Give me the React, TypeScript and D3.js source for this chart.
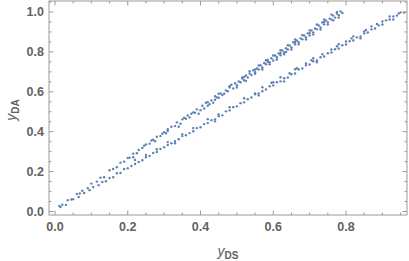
import React from "react";
import * as d3 from "d3";

const upperBand: number[] = [
  0.012,0.028, 0.02,0.034, 0.035,0.057, 0.045,0.060, 0.06,0.088, 0.068,0.090, 0.075,0.104, 0.09,0.117,
  0.10,0.140, 0.115,0.150, 0.125,0.170, 0.135,0.172, 0.15,0.207, 0.16,0.213, 0.17,0.222, 0.18,0.245,
  0.19,0.250, 0.20,0.268, 0.205,0.27, 0.215,0.29, 0.225,0.292, 0.23,0.308, 0.24,0.318, 0.25,0.336,
  0.26,0.34, 0.265,0.356, 0.275,0.352, 0.28,0.375, 0.29,0.378, 0.30,0.398, 0.305,0.392, 0.31,0.404,
  0.32,0.425, 0.33,0.428, 0.335,0.447, 0.345,0.44, 0.35,0.462, 0.36,0.465, 0.365,0.482, 0.37,0.472,
  0.38,0.497, 0.385,0.495, 0.39,0.512, 0.40,0.508, 0.405,0.53, 0.41,0.516, 0.42,0.548, 0.425,0.538,
  0.43,0.557, 0.44,0.56, 0.445,0.572, 0.45,0.57, 0.455,0.592, 0.46,0.584, 0.47,0.607, 0.475,0.603,
  0.48,0.622, 0.49,0.617, 0.495,0.643, 0.50,0.633, 0.505,0.652, 0.51,0.648, 0.515,0.667, 0.52,0.658,
  0.525,0.682, 0.53,0.672, 0.535,0.692, 0.54,0.684, 0.545,0.708, 0.55,0.698, 0.555,0.717, 0.56,0.712,
  0.565,0.733, 0.57,0.722, 0.575,0.744, 0.58,0.738, 0.585,0.75, 0.59,0.748, 0.595,0.768, 0.60,0.757,
  0.605,0.782, 0.61,0.773, 0.615,0.792, 0.62,0.783, 0.625,0.807, 0.63,0.797, 0.635,0.818, 0.64,0.812,
  0.645,0.832, 0.65,0.822, 0.655,0.848, 0.66,0.838, 0.665,0.857, 0.67,0.848, 0.675,0.868, 0.68,0.863,
  0.685,0.882, 0.69,0.872, 0.695,0.893, 0.70,0.882, 0.705,0.907, 0.71,0.898, 0.715,0.917, 0.72,0.913,
  0.725,0.932, 0.73,0.922, 0.735,0.947, 0.74,0.938, 0.745,0.957, 0.75,0.948, 0.755,0.967, 0.76,0.962,
  0.765,0.982, 0.77,0.972, 0.775,0.992, 0.78,0.984, 0.785,1.003, 0.79,0.995,
  0.215,0.272, 0.245,0.33, 0.27,0.36, 0.295,0.39, 0.31,0.412, 0.34,0.425, 0.355,0.47, 0.375,0.49,
  0.395,0.49, 0.415,0.545, 0.435,0.545, 0.44,0.578, 0.465,0.59, 0.485,0.635, 0.50,0.622, 0.515,0.672,
  0.525,0.655, 0.535,0.703, 0.55,0.69, 0.56,0.732, 0.57,0.712, 0.58,0.758, 0.59,0.738, 0.60,0.782,
  0.61,0.762, 0.62,0.808, 0.63,0.788, 0.64,0.833, 0.65,0.812, 0.66,0.862, 0.67,0.838, 0.68,0.884,
  0.69,0.862, 0.70,0.908, 0.71,0.887, 0.72,0.937, 0.73,0.912, 0.74,0.962, 0.75,0.937, 0.76,0.987,
  0.765,0.958, 0.775,1.0, 0.78,0.972, 0.55,0.712, 0.62,0.795, 0.66,0.85, 0.70,0.895, 0.74,0.95,
  0.585,0.76, 0.635,0.80, 0.48,0.628, 0.52,0.675, 0.45,0.59, 0.42,0.53,
];

const lowerBand: number[] = [
  0.015,0.022, 0.03,0.033, 0.05,0.062, 0.065,0.073, 0.08,0.093, 0.095,0.107, 0.105,0.123, 0.12,0.132,
  0.13,0.148, 0.14,0.152, 0.15,0.168, 0.16,0.172, 0.17,0.192, 0.18,0.193, 0.19,0.213, 0.20,0.217,
  0.21,0.228, 0.22,0.238, 0.23,0.248, 0.24,0.257, 0.25,0.272, 0.26,0.278, 0.27,0.293, 0.28,0.298,
  0.29,0.313, 0.30,0.322, 0.31,0.333, 0.32,0.342, 0.33,0.353, 0.34,0.362, 0.35,0.378, 0.36,0.382,
  0.37,0.393, 0.38,0.402, 0.39,0.418, 0.40,0.422, 0.41,0.438, 0.42,0.443, 0.43,0.458, 0.44,0.462,
  0.45,0.478, 0.46,0.482, 0.47,0.502, 0.48,0.507, 0.49,0.523, 0.50,0.527, 0.51,0.543, 0.52,0.547,
  0.53,0.563, 0.54,0.572, 0.55,0.588, 0.56,0.592, 0.57,0.603, 0.58,0.612, 0.59,0.628, 0.60,0.632,
  0.61,0.648, 0.62,0.652, 0.63,0.668, 0.64,0.672, 0.65,0.688, 0.66,0.692, 0.67,0.712, 0.68,0.717,
  0.69,0.733, 0.70,0.737, 0.71,0.753, 0.72,0.757, 0.73,0.773, 0.74,0.777, 0.75,0.793, 0.76,0.797,
  0.77,0.813, 0.78,0.817, 0.79,0.833, 0.80,0.837, 0.81,0.853, 0.82,0.857, 0.83,0.873, 0.84,0.877,
  0.85,0.893, 0.86,0.897, 0.87,0.913, 0.88,0.917, 0.89,0.933, 0.90,0.937, 0.91,0.958, 0.92,0.962,
  0.93,0.978, 0.94,0.982, 0.95,0.998, 0.96,0.997,
  0.22,0.258, 0.25,0.283, 0.28,0.312, 0.31,0.348, 0.35,0.388, 0.38,0.418, 0.42,0.463, 0.45,0.487,
  0.48,0.523, 0.52,0.568, 0.55,0.592, 0.57,0.623, 0.60,0.648, 0.62,0.673, 0.645,0.693, 0.66,0.713,
  0.69,0.742, 0.71,0.768, 0.735,0.788, 0.76,0.812, 0.78,0.838, 0.80,0.852, 0.82,0.878, 0.85,0.902,
  0.87,0.928, 0.90,0.952, 0.92,0.978, 0.945,0.993,
  0.33,0.342, 0.44,0.452, 0.56,0.582, 0.63,0.652, 0.72,0.748, 0.84,0.868, 0.93,0.962,
  0.595,0.645, 0.665,0.718, 0.705,0.758, 0.775,0.828, 0.815,0.868, 0.855,0.91, 0.885,0.94,
];

const xTickLabels = ["0.0", "0.2", "0.4", "0.6", "0.8"];
const yTickLabels = ["0.0", "0.2", "0.4", "0.6", "0.8", "1.0"];

const W = 409;
const H = 261;
const FL = 49, FR = 407, FT = 1, FB = 215;

function toPairs(a: number[]): [number, number][] {
  const out: [number, number][] = [];
  for (let i = 0; i + 1 < a.length; i += 2) out.push([a[i], a[i + 1]]);
  return out;
}

export default function App() {
  const x = d3.scaleLinear().domain([-0.0165, 0.9677]).range([FL, FR]);
  const y = d3.scaleLinear().domain([-0.0175, 1.0551]).range([FB, FT]);
  const pts = [...toPairs(upperBand), ...toPairs(lowerBand)];

  const xMinor = d3.range(0, 0.97, 0.05).map((v) => +v.toFixed(2));
  const yMinor = d3.range(0, 1.051, 0.05).map((v) => +v.toFixed(2));
  const isMajor = (v: number) => Math.abs(v * 5 - Math.round(v * 5)) < 1e-6;

  const frameColor = "#9a9a9a";
  const textColor = "#626262";
  const font = "'Liberation Sans', Arial, sans-serif";

  return (
    <svg width={W} height={H} style={{ position: "absolute", left: 0, top: 0, background: "#fff" }}>
      {pts.map(([px, py], i) => (
        <circle key={i} cx={x(px)} cy={y(py)} r={1.2} fill="#5E81B5" />
      ))}
      <rect x={FL} y={FT} width={FR - FL} height={FB - FT} fill="none" stroke={frameColor} strokeWidth={1} />
      {xMinor.map((v, i) => {
        const len = isMajor(v) ? 4.5 : 2.5;
        const px = x(v);
        return (
          <g key={"xt" + i}>
            <line x1={px} x2={px} y1={FB} y2={FB - len} stroke={frameColor} />
            <line x1={px} x2={px} y1={FT} y2={FT + len} stroke={frameColor} />
          </g>
        );
      })}
      {yMinor.map((v, i) => {
        const len = isMajor(v) ? 4.5 : 2.5;
        const py = y(v);
        return (
          <g key={"yt" + i}>
            <line x1={FL} x2={FL + len} y1={py} y2={py} stroke={frameColor} />
            <line x1={FR} x2={FR - len} y1={py} y2={py} stroke={frameColor} />
          </g>
        );
      })}
      {xTickLabels.map((t) => (
        <text key={"xl" + t} x={x(+t)} y={FB + 16} textAnchor="middle" fontSize={12.5} fontWeight="bold" fill={textColor} fontFamily={font}>
          {t}
        </text>
      ))}
      {yTickLabels.map((t) => (
        <text key={"yl" + t} x={FL - 5} y={y(+t) + 4.5} textAnchor="end" fontSize={12.5} fontWeight="bold" fill={textColor} fontFamily={font}>
          {t}
        </text>
      ))}
      <text x={228} y={256} textAnchor="middle" fill={textColor} fontFamily={font} fontSize={14}>
        <tspan fontStyle="italic">y</tspan>
        <tspan fontSize={10} dy={3} fontWeight="bold">DS</tspan>
      </text>
      <text transform={`translate(16,${110}) rotate(-90)`} textAnchor="middle" fill={textColor} fontFamily={font} fontSize={14}>
        <tspan fontStyle="italic">y</tspan>
        <tspan fontSize={10} dy={3} fontWeight="bold">DA</tspan>
      </text>
    </svg>
  );
}
